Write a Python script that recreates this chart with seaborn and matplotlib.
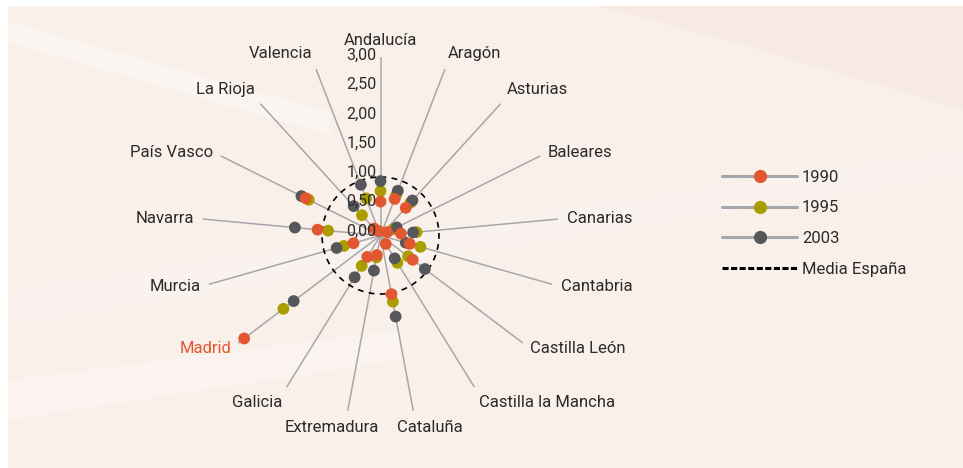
import numpy as np
import pandas as pd
import matplotlib
matplotlib.use("Agg")
import matplotlib.pyplot as plt
import seaborn as sns
from matplotlib.lines import Line2D
from matplotlib.patches import Rectangle, Polygon

regions = ["Andalucía", "Aragón", "Asturias", "Baleares", "Canarias", "Cantabria",
           "Castilla León", "Castilla la Mancha", "Cataluña", "Extremadura", "Galicia",
           "Madrid", "Murcia", "Navarra", "País Vasco", "La Rioja", "Valencia"]
v1990 = [0.58, 0.67, 0.64, 0.13, 0.35, 0.52, 0.69, 0.17, 1.02, 0.34, 0.43, 2.92, 0.48, 1.08, 1.43, 0.16, 0.08]
v1995 = [0.76, 0.74, 0.76, 0.25, 0.62, 0.71, 0.59, 0.55, 1.15, 0.38, 0.61, 2.08, 0.65, 0.90, 1.37, 0.47, 0.68]
v2003 = [0.93, 0.82, 0.81, 0.31, 0.56, 0.45, 0.95, 0.46, 1.41, 0.61, 0.84, 1.86, 0.78, 1.47, 1.51, 0.68, 0.93]
media = 1.0
rticks = [0.0, 0.5, 1.0, 1.5, 2.0, 2.5, 3.0]
rtick_labels = ["0,00", "0,50", "1,00", "1,50", "2,00", "2,50", "3,00"]
series_names = ["1990", "1995", "2003"]

colors = {"1990": "#E2572F", "1995": "#A99D00", "2003": "#55575A"}
spoke_col = "#A5A7AA"
FONT = ["Roboto", "DejaVu Sans"]

sns.set_style("white")
plt.rcParams["font.family"] = FONT

W, H = 963, 468
fig = plt.figure(figsize=(W / 100, H / 100), dpi=100)
fig.patch.set_facecolor("white")

# background panel
fig.add_artist(Rectangle((8 / W, 0), 1, 1 - 6 / H, transform=fig.transFigure,
                         facecolor="#FAF0EA", edgecolor="none", zorder=-10))
fig.add_artist(Polygon([(600 / W, 1 - 6 / H), (1, 1 - 6 / H), (1, 1 - 110 / H), (760 / W, 1 - 50 / H)],
                       closed=True, transform=fig.transFigure, facecolor="#F5E3DA",
                       edgecolor="none", alpha=0.45, zorder=-9))
fig.add_artist(Polygon([(8 / W, 1 - 22 / H), (8 / W, 1 - 42 / H), (330 / W, 1 - 135 / H), (330 / W, 1 - 112 / H)],
                       closed=True, transform=fig.transFigure, facecolor="white",
                       edgecolor="none", alpha=0.35, zorder=-9))
fig.add_artist(Polygon([(8 / W, 1 - 290 / H), (8 / W, 1 - 325 / H), (963 / W, 1 - 175 / H), (963 / W, 1 - 150 / H)],
                       closed=True, transform=fig.transFigure, facecolor="white",
                       edgecolor="none", alpha=0.2, zorder=-9))
fig.add_artist(Polygon([(8 / W, 1 - 380 / H), (8 / W, 1 - 420 / H), (400 / W, 1 - 360 / H), (400 / W, 1 - 330 / H)],
                       closed=True, transform=fig.transFigure, facecolor="white",
                       edgecolor="none", alpha=0.25, zorder=-9))

# polar axes geometry
k = 58.5
rmax = 3.05
cx, cy = 380.5, 235.5
rad = rmax * k
ax = fig.add_axes([(cx - rad) / W, (H - cy - rad) / H, 2 * rad / W, 2 * rad / H], projection="polar")
ax.set_theta_zero_location("N")
ax.set_theta_direction(-1)
ax.patch.set_alpha(0)
ax.spines["polar"].set_visible(False)
ax.set_ylim(0, rmax)

n = len(regions)
angles = np.arange(n) * 2 * np.pi / n
ax.set_xticks(angles)
ax.set_xticklabels([])
ax.set_yticks(rticks)
ax.set_yticklabels([])
ax.yaxis.grid(False)
ax.xaxis.grid(True, color=spoke_col, linewidth=1.1)
ax.tick_params(length=0)

# media circle
th = np.linspace(0, 2 * np.pi, 400)
ax.plot(th, np.full_like(th, media), color="black", linewidth=1.2,
        linestyle=(0, (3.5, 3.2)), zorder=3)

# points
draw_order = ["1995", "2003", "1990"]
vals = {"1990": v1990, "1995": v1995, "2003": v2003}
df = pd.concat([pd.DataFrame({"theta": angles, "r": vals[s], "year": s}) for s in draw_order],
               ignore_index=True)
sns.scatterplot(data=df, x="theta", y="r", hue="year", palette=colors, s=72,
                edgecolor="none", linewidth=0, legend=False, ax=ax, zorder=5)
ax.set_xlabel("")
ax.set_ylabel("")

# radial tick labels on the Andalucía axis
for v, lab in zip(rticks, rtick_labels):
    ax.annotate(lab, xy=(0, v), xytext=(-4, 4.5), textcoords="offset pixels",
                ha="right", va="center", fontsize=11.5, color="#2b2b2b",
                annotation_clip=False, zorder=6)

# category labels
lab_r = 3.2
for a, name in zip(angles, regions):
    s, c = np.sin(a), np.cos(a)
    ha = "left" if s > 0.3 else ("right" if s < -0.3 else "center")
    va = "bottom" if c > 0.7 else ("top" if c < -0.8 else "center")
    dx = s * 80 if abs(s) <= 0.3 else 0
    col = colors["1990"] if name == "Madrid" else "#2b2b2b"
    ax.annotate(name, xy=(a, lab_r), xytext=(dx, 0), textcoords="offset pixels",
                ha=ha, va=va, fontsize=12, color=col, annotation_clip=False)

# legend
handles = [Line2D([0], [0], color="#A5A7AA", linewidth=2.2, marker="o", markersize=8.5,
                  markerfacecolor=colors[s], markeredgecolor=colors[s]) for s in series_names]
handles.append(Line2D([0], [0], color="black", linewidth=2.2, linestyle=(0, (2.0, 0.8))))
leg = fig.legend(handles, series_names + ["Media España"], loc="upper left",
                 bbox_to_anchor=(722 / W, 1 - 170 / H), frameon=False, fontsize=12,
                 handlelength=4.5, handletextpad=0.3, labelspacing=0.93,
                 borderpad=0, borderaxespad=0, numpoints=1)
for t in leg.get_texts():
    t.set_color("#2b2b2b")

fig.savefig("out.png", dpi=100)
